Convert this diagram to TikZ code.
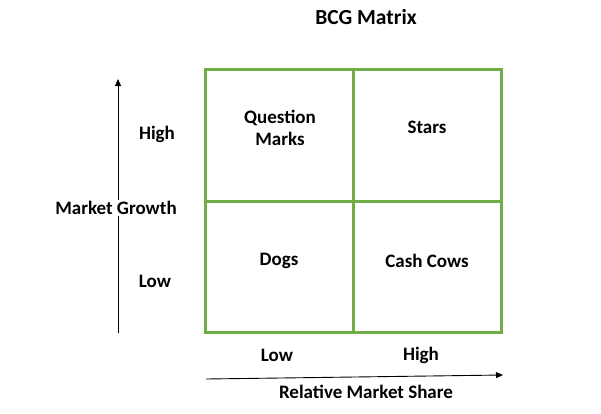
\documentclass[tikz,border=0pt]{standalone}
\usepackage{fontspec}
\setmainfont{Carlito}
\usetikzlibrary{arrows.meta}
\definecolor{bcggreen}{HTML}{70AD47}
\begin{document}
\begin{tikzpicture}[x=1pt,y=-1pt,
  lbl/.style={font=\bfseries\fontsize{19}{22}\selectfont, inner sep=1pt, align=center},
  ttl/.style={font=\bfseries\fontsize{21.5}{24}\selectfont, inner sep=1pt},
  gridline/.style={draw=bcggreen, line width=3pt},
  axis/.style={draw=black, line width=0.9pt, -{Triangle[length=7pt,width=6pt]}}]
\useasboundingbox (0,0) rectangle (601,413);
% grid
\coordinate (tl) at (205,69);
\coordinate (br) at (501,332);
\coordinate (mt) at (353,69);
\coordinate (mb) at (353,332);
\coordinate (ml) at (205,201);
\coordinate (mr) at (501,201);
\draw[gridline] (tl) rectangle (br);
\draw[gridline] (mt) -- (mb);
\draw[gridline] (ml) -- (mr);
% axes
\coordinate (ys) at (118,333);
\coordinate (ye) at (118,79);
\coordinate (xs) at (206,379);
\coordinate (xe) at (503,375);
\draw[axis] (ys) -- (ye);
\draw[axis] (xs) -- (xe);
% labels
\node[ttl] (title) at (366,17) {BCG Matrix};
\node[lbl] (qm) at (280,128) {Question\\Marks};
\node[lbl] (stars) at (427,127) {Stars};
\node[lbl] (dogs) at (279,261) {Dogs};
\node[lbl] (cows) at (427,261) {Cash Cows};
\node[lbl] (yhigh) at (157,134) {High};
\node[lbl] (ylow) at (155,281) {Low};
\node[lbl, fill=white, inner sep=1pt] (ygrowth) at (116,208) {Market Growth};
\node[lbl] (xlow) at (277,355) {Low};
\node[lbl] (xhigh) at (421,355) {High};
\node[lbl] (xshare) at (366,392) {Relative Market Share};
\end{tikzpicture}
\end{document}
